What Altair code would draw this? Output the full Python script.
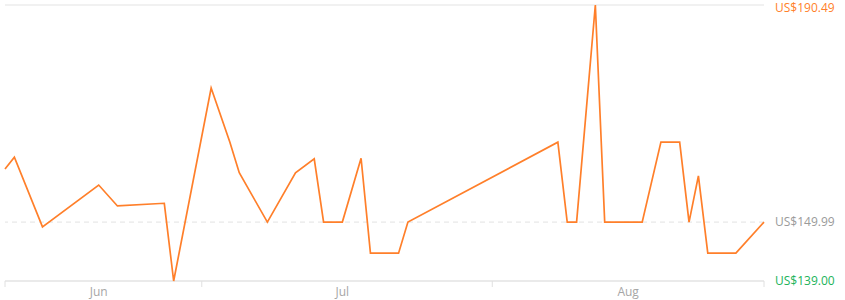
import altair as alt
import pandas as pd

start = pd.Timestamp("2024-06-10")
day_offsets = [0, 1, 4, 10, 12, 17, 18, 22, 24, 25, 28, 31, 33, 34, 36, 38, 39, 42, 43,
               59, 60, 61, 63, 64, 68, 70, 72, 73, 74, 75, 78, 81]
prices = [159.90, 162.10, 149.10, 156.90, 153.00, 153.50, 139.00, 175.00, 164.90, 159.20,
          149.99, 159.20, 161.80, 149.99, 149.99, 161.90, 144.20, 144.20, 149.99,
          164.90, 149.99, 149.99, 190.49, 149.99, 149.99, 164.90, 164.90, 149.99, 158.60,
          144.20, 144.20, 149.99]
month_labels = ["Jun", "Jul", "Aug"]
month_label_dates = ["2024-06-20", "2024-07-16", "2024-08-15T12:00"]
tick_dates = ["2024-06-10", "2024-07-01", "2024-08-01", "2024-08-30"]
y_ticks = [190.49, 149.99, 139.00]
y_tick_kinds = ["max", "current", "min"]
y_tick_colors = ["#ff7f2a", "#9a9a9a", "#21b35a"]

df = pd.DataFrame({
    "date": [(start + pd.Timedelta(days=d)).strftime("%Y-%m-%d") for d in day_offsets],
    "price": prices,
})

x_domain = ["2024-06-10", "2024-08-30"]
xscale = alt.Scale(domain=x_domain)
yscale = alt.Scale(domain=[139.00, 190.49], nice=False, zero=False)

line = alt.Chart(df).mark_line(color="#ff7f2a", strokeWidth=1.7).encode(
    x=alt.X("date:T", scale=xscale, axis=None),
    y=alt.Y("price:Q", scale=yscale, axis=None),
)

top_df = pd.DataFrame({"v": [190.49]})
top_rule = alt.Chart(top_df).mark_rule(color="#ececec", strokeWidth=1.5).encode(
    y=alt.Y("v:Q", scale=yscale, axis=None)
)

mid_df = pd.DataFrame({"v": [149.99]})
mid_rule = alt.Chart(mid_df).mark_rule(color="#e2e2e2", strokeDash=[5, 4], strokeWidth=1).encode(
    y=alt.Y("v:Q", scale=yscale, axis=None)
)

base_df = pd.DataFrame({"v": [139.00]})
base_rule = alt.Chart(base_df).mark_rule(color="#e3e3e3", strokeWidth=1.5).encode(
    y=alt.Y("v:Q", scale=yscale, axis=None)
)

ylab_df = pd.DataFrame({
    "v": y_ticks,
    "kind": y_tick_kinds,
    "label": ["US$" + f"{v:.2f}" for v in y_ticks],
})
color_enc = alt.Color("kind:N", scale=alt.Scale(domain=y_tick_kinds, range=y_tick_colors), legend=None)

y_labels = alt.Chart(ylab_df).transform_filter("datum.kind != 'max'").mark_text(
    align="left", baseline="middle", fontSize=12, font="Open Sans"
).encode(
    y=alt.Y("v:Q", scale=yscale, axis=None),
    x=alt.value(770),
    text="label:N",
    color=color_enc,
)
y_label_top = alt.Chart(ylab_df).transform_filter("datum.kind == 'max'").mark_text(
    align="left", baseline="middle", fontSize=12, font="Open Sans", dy=3
).encode(
    y=alt.Y("v:Q", scale=yscale, axis=None),
    x=alt.value(770),
    text="label:N",
    color=color_enc,
)

ticks_df = pd.DataFrame({"date": tick_dates})
tick_marks = alt.Chart(ticks_df).mark_rule(color="#e0e0e0", strokeWidth=1).encode(
    x=alt.X("date:T", scale=xscale, axis=None),
    y=alt.value(276),
    y2=alt.value(282),
)

labels_df = pd.DataFrame({"date": month_label_dates, "label": month_labels})
month_text = alt.Chart(labels_df).mark_text(
    baseline="middle", align="center", fontSize=12, font="Open Sans", color="#a6a6a6"
).encode(
    x=alt.X("date:T", scale=xscale, axis=None),
    y=alt.value(287),
    text="label:N",
)

chart = alt.layer(
    top_rule, mid_rule, base_rule, tick_marks, line, month_text, y_labels, y_label_top
).properties(
    width=759,
    height=276,
    autosize=alt.AutoSizeParams(type="none"),
    padding={"left": 5, "top": 5, "right": 81, "bottom": 19},
).configure_view(stroke=None)

chart.save("out.html", embed_options={"renderer": "svg", "actions": False})
